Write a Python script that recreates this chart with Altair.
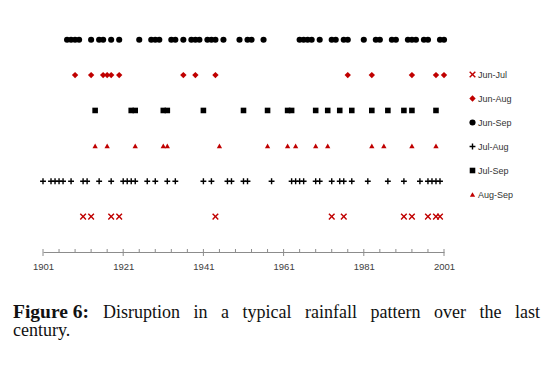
import altair as alt
import pandas as pd

# ---- data (years) ----
jun_sep = [1907, 1908, 1909, 1910, 1913, 1915, 1916, 1918, 1920, 1925, 1928, 1929, 1930,
           1933, 1934, 1936, 1938, 1939, 1940, 1942, 1943, 1944, 1946, 1950, 1952, 1953,
           1956, 1965, 1966, 1967, 1968, 1970, 1973, 1974, 1976, 1977, 1981, 1984, 1985,
           1988, 1989, 1992, 1993, 1994, 1996, 1997, 2000, 2001]
jun_aug = [1909, 1913, 1916, 1917, 1918, 1920, 1936, 1939, 1944, 1977, 1983, 1993, 1999, 2001]
jul_sep = [1914, 1923, 1924, 1931, 1932, 1941, 1951, 1957, 1962, 1963, 1969, 1972, 1975,
           1978, 1983, 1987, 1991, 1993, 1999]
aug_sep = [1914, 1917, 1924, 1931, 1932, 1945, 1957, 1962, 1964, 1969, 1972, 1983, 1986,
           1993, 1999]
jul_aug = [1901, 1903, 1904, 1905, 1906, 1908, 1911, 1912, 1915, 1918, 1921, 1922, 1923,
           1924, 1927, 1929, 1932, 1934, 1941, 1943, 1947, 1948, 1951, 1952, 1958, 1963,
           1964, 1965, 1966, 1969, 1970, 1973, 1975, 1976, 1978, 1982, 1987, 1991, 1995,
           1997, 1998, 1999, 2000]
jun_jul = [1911, 1913, 1918, 1920, 1944, 1973, 1976, 1991, 1993, 1997, 1999, 2000]

series_names = ["Jun-Jul", "Jun-Aug", "Jun-Sep", "Jul-Aug", "Jul-Sep", "Aug-Sep"]
series_years = [jun_jul, jun_aug, jun_sep, jul_aug, jul_sep, aug_sep]
# row order from the bottom of the plot upwards
row_order = ["Jun-Jul", "Jul-Aug", "Aug-Sep", "Jul-Sep", "Jun-Aug", "Jun-Sep"]

major_ticks = [1901, 1921, 1941, 1961, 1981, 2001]
minor_ticks = [1905, 1909, 1913, 1917, 1925, 1929, 1933, 1937, 1945, 1949, 1953, 1957,
               1965, 1969, 1973, 1977, 1985, 1989, 1993, 1997]

caption_words = ["Figure 6:", "Disruption", "in", "a", "typical", "rainfall", "pattern",
                 "over", "the", "last"]
caption_line2 = "century."

# ---- styles ----
RED = "#C00000"
BLACK = "#000000"
PLUS = ("M-1,-0.24L-0.24,-0.24L-0.24,-1L0.24,-1L0.24,-0.24L1,-0.24L1,0.24L0.24,0.24"
        "L0.24,1L-0.24,1L-0.24,0.24L-1,0.24Z")
XSHAPE = ("M-1,-0.7L-0.7,-1L0,-0.3L0.7,-1L1,-0.7L0.3,0L1,0.7L0.7,1L0,0.3"
          "L-0.7,1L-1,0.7L-0.3,0Z")
shape_range = [XSHAPE, "diamond", "circle", PLUS, "square", "triangle-up"]
color_range = [RED, RED, BLACK, BLACK, BLACK, RED]
size_range = [44, 28, 12, 56, 15, 26]

rows = []
for name, yrs in zip(series_names, series_years):
    for y in yrs:
        rows.append({"series": name, "year": y, "row": row_order.index(name) + 1})
df = pd.DataFrame(rows)

W, H = 401, 230
xscale = alt.Scale(domain=[1901, 2001], nice=False, zero=False)

points = alt.Chart(df).mark_point(filled=True, opacity=1).encode(
    x=alt.X("year:Q", scale=xscale,
            axis=alt.Axis(values=major_ticks, format="d", title=None, grid=False,
                          ticks=False, tickSize=0, labelPadding=9, labelFontSize=9.5,
                          labelFont="Liberation Sans", labelColor="#404040",
                          domainColor="#8c8c8c", domainWidth=1, labelFlush=False)),
    y=alt.Y("row:Q", scale=alt.Scale(domain=[0, 6.5], nice=False), axis=None),
    shape=alt.Shape("series:N", scale=alt.Scale(domain=series_names, range=shape_range),
                    legend=alt.Legend(title=None, orient="none", legendX=425, legendY=48,
                                      labelFont="Liberation Sans", labelFontSize=9,
                                      labelColor="#333333", rowPadding=14, labelOffset=1,
                                      padding=0)),
    color=alt.Color("series:N", scale=alt.Scale(domain=series_names, range=color_range)),
    size=alt.Size("series:N", scale=alt.Scale(domain=series_names, range=size_range)),
)

minor = alt.Chart(pd.DataFrame({"year": minor_ticks})).mark_rule(
    color="#8c8c8c", strokeWidth=1).encode(
    x=alt.X("year:Q", scale=xscale), y=alt.value(H - 3), y2=alt.value(H))
major = alt.Chart(pd.DataFrame({"year": major_ticks})).mark_rule(
    color="#8c8c8c", strokeWidth=1).encode(
    x=alt.X("year:Q", scale=xscale), y=alt.value(H - 3), y2=alt.value(H + 4))

# ---- caption: justified first line (Times-metric word widths) ----
REG = {"a": 444, "c": 444, "e": 444, "i": 278, "l": 278, "n": 500, "o": 500, "p": 500,
       "r": 333, "s": 389, "t": 278, "u": 500, "v": 500, "y": 500, "f": 333, "h": 500,
       "D": 722, ".": 250}
BOLD = {"F": 611, "i": 278, "g": 500, "u": 556, "r": 444, "e": 444, " ": 250, "6": 500,
        ":": 333}
FS_REG, FS_BOLD = 18, 19.5
LEFT, RIGHT = 13, 540


def wwidth(word, bold):
    tbl, fs = (BOLD, FS_BOLD) if bold else (REG, FS_REG)
    return sum(tbl.get(c, 500) for c in word) * fs / 1000.0


widths = [wwidth(w, i == 0) for i, w in enumerate(caption_words)]
gap = (RIGHT - LEFT - sum(widths)) / (len(caption_words) - 1)
word_x = []
cur = LEFT
for wd in widths:
    word_x.append(cur)
    cur += wd + gap

ox, oy = 43, 22
layers = [minor, major, points]
for i, (w, px) in enumerate(zip(caption_words, word_x)):
    layers.append(
        alt.Chart(pd.DataFrame({"t": [w]})).mark_text(
            align="left", baseline="alphabetic", font="Liberation Serif",
            fontSize=FS_BOLD if i == 0 else FS_REG,
            fontWeight="bold" if i == 0 else "normal", color="#111111").encode(
            text="t:N", x=alt.value(px - ox), y=alt.value(318 - oy)))
layers.append(
    alt.Chart(pd.DataFrame({"t": [caption_line2]})).mark_text(
        align="left", baseline="alphabetic", font="Liberation Serif", fontSize=FS_REG,
        color="#111111").encode(text="t:N", x=alt.value(LEFT - ox), y=alt.value(336 - oy)))

chart = alt.layer(*layers).properties(
    width=W, height=H,
    autosize=alt.AutoSizeParams(type="none"),
    padding={"left": 35, "top": 14, "right": 100, "bottom": 110},
    background="white",
).configure_view(stroke=None).resolve_scale(x="shared")

chart.save("out.html", embed_options={"renderer": "svg", "actions": False})
